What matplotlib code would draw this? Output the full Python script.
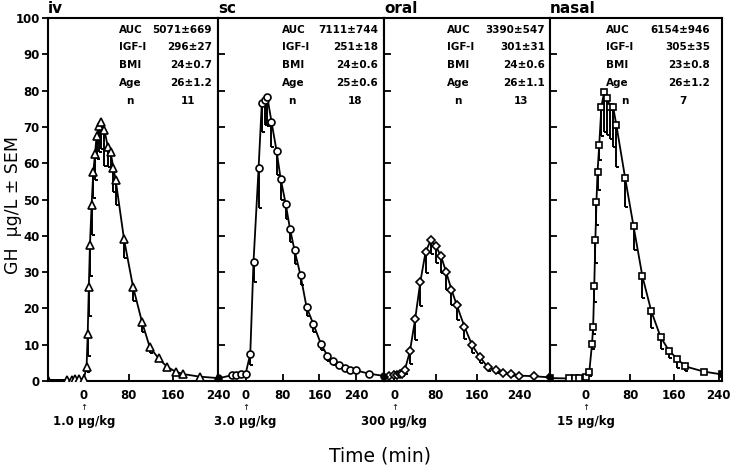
import matplotlib
matplotlib.use("Agg")
import matplotlib.pyplot as plt
import numpy as np

plt.rcParams['font.family'] = ['DejaVu Sans']

# ---------------- data ----------------
panel_names = ["iv", "sc", "oral", "nasal"]
dose_labels = ["1.0 μg/kg", "3.0 μg/kg", "300 μg/kg", "15 μg/kg"]
xtick_vals = [0, 80, 160, 240]
ytick_vals = list(range(0, 101, 10))

stat_names = ["AUC", "IGF-I", "BMI", "Age", "n"]
iv_stats = ["5071±669", "296±27", "24±0.7", "26±1.2", "11"]
sc_stats = ["7111±744", "251±18", "24±0.6", "25±0.6", "18"]
oral_stats = ["3390±547", "301±31", "24±0.6", "26±1.1", "13"]
nasal_stats = ["6154±946", "305±35", "23±0.8", "26±1.2", "7"]

iv_t = [-64, -30, -21, -16, -9, 0, 5, 7, 9, 11, 14, 17, 20, 23, 27, 31, 37, 43, 48, 53, 57,
        72, 88, 104, 118, 134, 149, 164, 178, 207, 240]
iv_v = [0.3, 0.3, 0.4, 0.5, 0.5, 0.6, 3.9, 13.0, 25.8, 37.5, 48.6, 57.5, 62.5, 67.6, 70.2, 71.4,
        69.1, 64.5, 63.0, 58.6, 55.4, 39.0, 26.0, 16.3, 9.3, 6.2, 3.9, 2.6, 1.9, 1.2, 0.8]
iv_e = [0, 0, 0, 0, 0, 0, 1.5, 6.0, 8.0, 8.5, 8.5, 7.0, 7.0, 6.5, 7.0, 7.5,
        10.0, 5.5, 4.5, 6.5, 7.0, 5.0, 4.0, 2.8, 1.5, 0.8, 0.5, 0.5, 0.4, 0.3, 0]

sc_t = [-60, -30, -20, -10, 0, 10, 17, 28, 35, 41, 47, 56, 67, 76, 87, 96, 106, 119, 132,
        147, 163, 177, 190, 202, 215, 227, 240, 268, 300]
sc_v = [0.7, 1.6, 1.7, 1.8, 2.0, 7.5, 32.8, 58.6, 76.5, 77.4, 78.2, 71.4, 63.4, 55.6, 48.7,
        42.0, 36.0, 29.1, 20.4, 15.6, 10.3, 7.0, 5.4, 4.3, 3.5, 3.1, 2.9, 2.0, 1.4]
sc_e = [0, 0, 0, 0, 0, 3.2, 5.5, 11.0, 8.0, 7.0, 8.0, 7.0, 6.7, 5.8, 4.2, 3.7, 3.7, 2.7, 2.4,
        2.1, 1.7, 1.4, 1.0, 0.8, 0.7, 0.6, 0.5, 0.3, 0]

oral_t = [-20, -10, 0, 5, 10, 15, 20, 30, 40, 50, 60, 70, 80, 90, 100, 110, 120, 135, 150,
          165, 180, 195, 210, 225, 240, 270, 300]
oral_v = [1.2, 1.5, 1.6, 1.7, 1.8, 2.0, 3.0, 8.2, 17.0, 27.3, 35.4, 38.8, 37.1, 34.4, 29.9,
          25.2, 21.0, 15.0, 9.8, 6.6, 3.8, 2.9, 2.2, 1.8, 1.5, 1.3, 1.0]
oral_e = [0, 0, 0, 0, 0, 0.5, 1.0, 3.5, 5.6, 6.7, 5.7, 3.7, 4.7, 4.6, 4.7, 4.4, 4.1, 3.3, 2.1,
          1.7, 1.0, 0.6, 0.4, 0.3, 0.2, 0, 0]

nasal_t = [-65, -30, -20, -13, 0, 6, 11, 13, 15, 17, 19, 21, 24, 28, 33, 38, 44, 49, 55, 71,
           86, 102, 118, 135, 150, 165, 180, 213, 246]
nasal_v = [0.8, 0.7, 0.7, 0.7, 1.0, 2.4, 10.3, 14.9, 26.1, 38.8, 49.4, 57.7, 65.0, 75.6, 79.7,
           77.9, 75.6, 75.6, 70.5, 55.8, 42.7, 28.9, 19.3, 12.1, 8.4, 6.1, 4.0, 2.6, 1.8]
nasal_e = [0, 0, 0, 0, 0, 1.0, 1.5, 2.0, 4.3, 6.4, 6.4, 5.0, 4.0, 8.0, 11.0, 10.0, 9.0, 11.0,
           11.5, 8.0, 6.7, 6.0, 4.8, 3.2, 2.2, 2.4, 1.2, 0.5, 0]

series = [(iv_t, iv_v, iv_e), (sc_t, sc_v, sc_e), (oral_t, oral_v, oral_e),
          (nasal_t, nasal_v, nasal_e)]
stats = [iv_stats, sc_stats, oral_stats, nasal_stats]

# ---------------- layout ----------------
W, H = 732, 476
fig = plt.figure(figsize=(W / 100, H / 100), dpi=100)

edges = [48, 218, 384, 550, 722]
xlims = [(-64, 240), (-60, 300), (-20, 300), (-65, 246)]
markers = ['^', 'o', 'D', 's']
msizes = [5.5, 5, 4.5, 5]
top_px, bot_px = 18, 381

# stat text positions (pixels): label left x, n-label x, value right x, n-value x
stat_pos = [(119, 130, 212, 188), (282, 292, 378, 355), (447, 458, 545, 521),
            (606, 625, 710, 683)]
row_y = [30, 47, 65, 83, 101]

def fx(px):
    return px / W

def fy(py):
    return 1 - py / H

bold = dict(fontweight='bold', color='black')

for i in range(4):
    l, r = edges[i], edges[i + 1]
    ax = fig.add_axes([fx(l), fy(bot_px), (r - l) / W, (bot_px - top_px) / H])
    t, v, e = [np.array(a, dtype=float) for a in series[i]]
    x0, x1 = xlims[i]
    ax.set_xlim(x0, x1)
    ax.set_ylim(0, 100)

    ax.plot(t, v, '-', color='black', lw=1.3, zorder=2)
    # error bars (downward, half caps)
    pxmin = (r - l) / (x1 - x0)
    capw = 3.0 / pxmin
    m = e > 0
    ax.vlines(t[m], v[m] - e[m], v[m], color='black', lw=1.4, zorder=2)
    ax.hlines(v[m] - e[m], t[m], t[m] + capw, color='black', lw=1.4, zorder=2)
    # markers: open, except at the panel edges (filled)
    edge = (t <= x0 + 0.5) | (t >= x1 - 0.5)
    ax.plot(t[~edge], v[~edge], linestyle='none', marker=markers[i], ms=msizes[i],
            mfc='white', mec='black', mew=1.2, zorder=3)
    ax.plot(t[edge], v[edge], linestyle='none', marker=markers[i], ms=msizes[i],
            mfc='black', mec='black', mew=1.2, zorder=3, clip_on=True)

    for s in ax.spines.values():
        s.set_linewidth(1.5)

    ax.set_xticks(xtick_vals)
    ax.set_xticklabels([str(x) for x in xtick_vals], fontsize=8.5, **bold)
    ax.tick_params(axis='x', direction='in', length=5, width=1.3, pad=6)
    ax.set_yticks(ytick_vals)
    if i == 0:
        ax.set_yticklabels([str(y) for y in ytick_vals], fontsize=8.5, **bold)
        ax.tick_params(axis='y', direction='out', length=4, width=1.3, pad=2)
    else:
        ax.tick_params(axis='y', direction='in', length=5, width=1.3, labelleft=False)

    # panel name
    ax.text(0.0, 1.005, panel_names[i], transform=ax.transAxes, ha='left', va='bottom',
            fontsize=11, **bold)

    # arrow and dose below x=0
    tr = ax.get_xaxis_transform()
    ax.text(0, -0.06, '↑', transform=tr, ha='center', va='top', fontsize=6, color='black')
    ax.text(0, -0.095, dose_labels[i], transform=tr, ha='center', va='top', fontsize=8.5,
            **bold)

    # stats box
    lx, nlx, vx, nvx = stat_pos[i]
    for k, name in enumerate(stat_names):
        if name == 'n':
            fig.text(fx(nlx), fy(row_y[k]), name, ha='center', va='center', fontsize=7.5, **bold)
            fig.text(fx(nvx), fy(row_y[k]), stats[i][k], ha='center', va='center',
                     fontsize=7.5, **bold)
        else:
            fig.text(fx(lx), fy(row_y[k]), name, ha='left', va='center', fontsize=7.5, **bold)
            fig.text(fx(vx), fy(row_y[k]), stats[i][k], ha='right', va='center',
                     fontsize=7.5, **bold)

fig.text(fx(13), fy(205), 'GH  μg/L ± SEM', rotation=90, ha='center', va='center',
         fontsize=12.5, color='black')
fig.text(fx(380), fy(456), 'Time (min)', ha='center', va='center', fontsize=13.5,
         color='black')

fig.savefig('out.png', dpi=100, facecolor='white')
